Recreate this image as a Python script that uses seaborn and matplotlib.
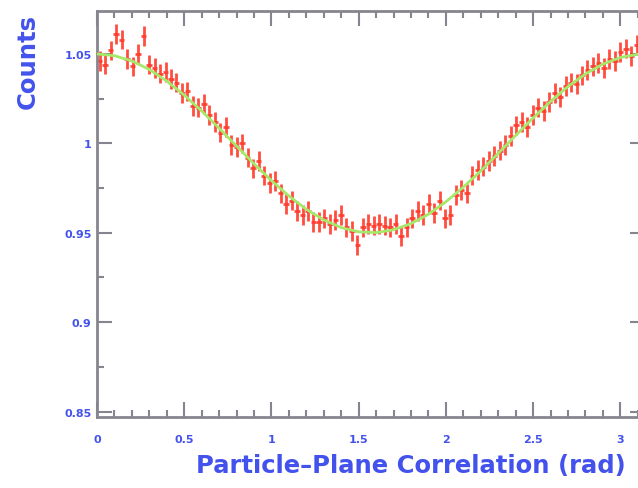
import numpy as np
import pandas as pd
import seaborn as sns
import matplotlib.pyplot as plt
from matplotlib.ticker import MultipleLocator, FixedLocator

# measured counts (normalised), 100 bins across 0..pi
counts = [
    1.046, 1.044, 1.052, 1.061, 1.058, 1.047, 1.043, 1.050, 1.060, 1.044,
    1.042, 1.039, 1.040, 1.036, 1.034, 1.028, 1.029, 1.021, 1.020, 1.022,
    1.016, 1.012, 1.006, 1.009, 0.999, 0.998, 1.000, 0.992, 0.986, 0.990,
    0.982, 0.978, 0.979, 0.972, 0.966, 0.968, 0.962, 0.960, 0.962, 0.956,
    0.956, 0.958, 0.955, 0.957, 0.960, 0.953, 0.951, 0.943, 0.953, 0.955,
    0.954, 0.955, 0.954, 0.953, 0.955, 0.948, 0.953, 0.958, 0.962, 0.960,
    0.966, 0.961, 0.968, 0.958, 0.960, 0.971, 0.974, 0.972, 0.982, 0.985,
    0.987, 0.990, 0.993, 0.996, 0.999, 1.004, 1.010, 1.012, 1.009, 1.016,
    1.020, 1.018, 1.023, 1.028, 1.026, 1.032, 1.034, 1.033, 1.038, 1.041,
    1.043, 1.045, 1.042, 1.047, 1.046, 1.051, 1.053, 1.049, 1.055, 1.052,
]
count_err = 0.0055

# fitted curve
fit_x = [0.0, 0.1, 0.2, 0.3, 0.4, 0.5, 0.6, 0.7, 0.8, 0.9, 1.0, 1.1, 1.2, 1.3,
         1.4, 1.5, 1.6, 1.7, 1.8, 1.9, 2.0, 2.1, 2.2, 2.3, 2.4, 2.5, 2.6, 2.7,
         2.8, 2.9, 3.0, 3.1, 3.1416]
fit_y = [1.0500, 1.0490, 1.0461, 1.0413, 1.0348, 1.0270, 1.0181, 1.0085,
         0.9985, 0.9886, 0.9792, 0.9706, 0.9631, 0.9572, 0.9529, 0.9505,
         0.9501, 0.9517, 0.9551, 0.9604, 0.9673, 0.9755, 0.9846, 0.9944,
         1.0044, 1.0142, 1.0234, 1.0318, 1.0388, 1.0443, 1.0480, 1.0498,
         1.0500]

y_ticks = [0.85, 0.9, 0.95, 1.0, 1.05]
y_tick_labels = ["0.85", "0.9", "0.95", "1", "1.05"]
x_ticks = [0, 0.5, 1, 1.5, 2, 2.5, 3]
x_tick_labels = ["0", "0.5", "1", "1.5", "2", "2.5", "3"]

n = len(counts)
edges = np.linspace(0, np.pi, n + 1)
df = pd.DataFrame({"x": (edges[:-1] + edges[1:]) / 2, "y": counts})
fit = pd.DataFrame({"x": fit_x, "y": fit_y})

sns.set_style("ticks")
blue = "#4352ec"
frame = "#85858f"

fig = plt.figure(figsize=(6.38, 4.89), dpi=100)
ax = fig.add_axes([97 / 638, 1 - 418 / 489, 548 / 638, 406 / 489])

ax.errorbar(df["x"], df["y"], yerr=count_err, xerr=(edges[1] - edges[0]) / 2,
            fmt="none", ecolor="#ff3b2b", elinewidth=2.0, alpha=0.9, zorder=2)
sns.lineplot(data=fit, x="x", y="y", color="#a6e86a", lw=2.0, ax=ax, zorder=3)

ax.set_xlim(0, np.pi)
ax.set_ylim(0.847, 1.074)
ax.xaxis.set_major_locator(FixedLocator(x_ticks))
ax.set_xticklabels(x_tick_labels)
ax.xaxis.set_minor_locator(MultipleLocator(0.1))
ax.yaxis.set_major_locator(FixedLocator(y_ticks))
ax.set_yticklabels(y_tick_labels)
ax.yaxis.set_minor_locator(MultipleLocator(0.025))

ax.tick_params(which="both", direction="in", top=True, right=True,
               color=frame, width=1.5, labelsize=8, labelcolor=blue)
ax.tick_params(which="major", length=11)
ax.tick_params(which="minor", length=5)
ax.tick_params(axis="x", which="major", pad=12)
ax.tick_params(axis="y", which="major", pad=4)
for lab in ax.get_xticklabels() + ax.get_yticklabels():
    lab.set_fontweight("bold")
for sp in ax.spines.values():
    sp.set_color(frame)
    sp.set_linewidth(2)

ax.set_xlabel("")
ax.set_ylabel("")
fig.text(626 / 638, 1 - 466 / 489, "Particle\u2013Plane Correlation (rad)",
         ha="right", va="center", fontsize=17.5, fontweight="bold", color=blue)
fig.text(28 / 638, 1 - 14 / 489, "Counts", rotation=90, ha="center", va="top",
         fontsize=17.5, fontweight="bold", color=blue)

fig.savefig("out.png", dpi=100)
